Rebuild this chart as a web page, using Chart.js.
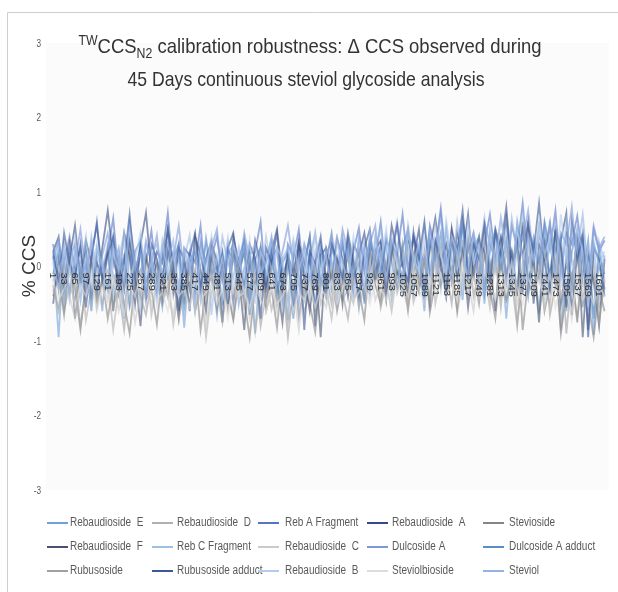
<!DOCTYPE html>
<html>
<head>
<meta charset="utf-8">
<script src="https://cdn.jsdelivr.net/npm/chart.js@4/dist/chart.umd.min.js"></script>
<style>
  body { margin: 0; background: #fff; }
  canvas { display: block; }
</style>
</head>
<body>
<canvas id="ccsCanvas" width="618" height="592"></canvas>
<script>
// run number of each sampled point (every 16th run)
const runIndex = [
  1, 17, 33, 49, 65, 81, 97, 113, 129, 145,
  161, 177, 193, 209, 225, 241, 257, 273, 289, 305,
  321, 337, 353, 369, 385, 401, 417, 433, 449, 465,
  481, 497, 513, 529, 545, 561, 577, 593, 609, 625,
  641, 657, 673, 689, 705, 721, 737, 753, 769, 785,
  801, 817, 833, 849, 865, 881, 897, 913, 929, 945,
  961, 977, 993, 1009, 1025, 1041, 1057, 1073, 1089, 1105,
  1121, 1137, 1153, 1169, 1185, 1201, 1217, 1233, 1249, 1265,
  1281, 1297, 1313, 1329, 1345, 1361, 1377, 1393, 1409, 1425,
  1441, 1457, 1473, 1489, 1505, 1521, 1537, 1553, 1569, 1585,
  1601, 1617
];

// category labels shown on the axis
const tickLabels = [1, 33, 65, 97, 129, 161, 193, 225, 257, 289, 321, 353, 385, 417, 449, 481, 513,
  545, 577, 609, 641, 673, 705, 737, 769, 801, 833, 865, 897, 929, 961, 993, 1025, 1057, 1089,
  1121, 1153, 1185, 1217, 1249, 1281, 1313, 1345, 1377, 1409, 1441, 1473, 1505, 1537, 1569, 1601];

const yTicks = [3, 2, 1, 0, -1, -2, -3];

// % CCS deviation per compound
const rebaudiosideE = [
  0.15,-0.95,0.3,-0.12,0.02,-0.45,0.2,-0.3,0.1,-0.6,
  0.25,-0.15,-0.05,-0.7,0.18,-0.22,0.35,-0.4,0.05,-0.18,
  -0.55,0.22,-0.1,0.12,-0.82,0.08,-0.35,0.28,-0.2,0.0,
  -0.65,0.15,-0.28,0.32,-0.5,-0.02,0.18,-0.9,0.1,-0.25,
  0.2,-0.45,0.05,-0.72,0.26,-0.12,-0.38,0.14,-0.6,0.3,
  -0.2,0.08,-0.48,0.35,-0.15,0.12,-0.55,0.22,-0.3,0.4,
  -0.08,0.28,-0.42,0.15,-0.2,0.45,-0.35,0.1,-0.6,0.32,
  0.05,-0.25,0.5,-0.1,0.2,-0.45,0.38,-0.15,0.12,-0.5,
  0.42,-0.05,0.25,-0.7,0.18,-0.3,0.55,-0.2,0.08,-0.62,
  0.35,-0.12,0.48,-0.85,0.2,-0.28,0.4,-0.55,0.15,-0.92,
  0.3,-0.2
];
const rebaudiosideD = [
  -0.35,-0.1,-0.6,-0.25,-0.45,0.05,-0.72,-0.3,-0.15,-0.5,
  -0.2,-0.85,-0.32,-0.05,-0.55,-0.28,-0.4,0.1,-0.65,-0.22,
  -0.38,-0.12,-0.78,-0.3,-0.48,0.02,-0.6,-0.25,-0.95,-0.35,
  -0.18,-0.52,-0.3,-0.7,-0.1,-0.42,-0.25,-0.88,-0.35,-0.15,
  -0.58,-0.3,-0.05,-0.75,-0.4,-0.2,-0.62,-0.33,0.08,-0.5,
  -0.28,-0.7,-0.15,-0.45,-0.3,0.12,-0.55,-0.25,-0.38,0.2,
  -0.42,-0.18,-0.6,-0.05,-0.35,0.25,-0.48,-0.22,-0.3,0.38,
  -0.5,-0.12,-0.28,0.15,-0.62,-0.2,-0.4,0.3,-0.35,-0.08,
  -0.55,0.1,-0.3,-0.45,0.22,-0.75,-0.18,-0.35,0.05,-0.6,
  -0.25,-0.5,0.12,-0.82,-0.3,-0.15,-0.68,-0.2,-0.45,-0.1,
  -0.55,-0.3
];
const rebAFragment = [
  0.3,-0.2,0.05,0.4,-0.1,0.25,-0.35,0.15,0.55,-0.05,
  0.2,0.65,-0.15,0.1,0.35,-0.3,0.22,0.05,0.48,-0.2,
  0.15,0.72,-0.1,0.3,-0.4,0.18,0.05,0.55,-0.25,0.12,
  0.4,-0.15,0.28,-0.5,0.1,0.35,-0.05,0.2,0.6,-0.3,
  0.08,0.25,-0.45,0.3,0.12,0.5,-0.2,0.15,-0.6,0.28,
  0.05,0.45,-0.12,0.3,-0.25,0.2,0.52,-0.08,0.35,0.1,
  0.6,-0.1,0.3,0.15,0.7,-0.05,0.4,0.2,-0.3,0.55,
  0.25,0.78,0.05,0.35,-0.15,0.62,0.2,0.45,-0.1,0.3,
  0.7,0.12,0.4,-0.2,0.55,0.25,0.85,0.05,0.38,-0.15,
  0.6,0.22,0.75,-0.1,0.45,0.3,0.68,0.1,-0.4,0.5,
  0.2,0.35
];
const rebaudiosideA = [
  0.2,0.4,-0.3,0.1,0.55,-0.15,0.35,0.05,-0.4,0.25,
  0.75,0.1,-0.2,0.45,0.15,-0.5,0.3,0.72,-0.1,0.2,
  0.05,0.5,-0.35,0.25,0.1,-0.6,0.4,0.15,-0.2,0.3,
  0.08,-0.75,0.25,0.45,-0.1,0.2,-0.45,0.35,0.05,-0.3,
  0.2,0.5,-0.15,0.1,-0.55,0.3,0.05,0.4,-0.8,0.15,
  0.25,-0.2,0.38,0.1,-0.4,0.3,0.15,0.45,-0.05,0.22,
  0.35,-0.15,0.55,0.2,-0.25,0.4,0.1,0.5,-0.3,0.25,
  0.65,0.05,0.3,-0.2,0.45,0.15,0.7,-0.1,0.35,0.2,
  -0.35,0.5,0.25,0.8,-0.05,0.4,0.15,0.6,-0.5,0.3,
  0.1,0.55,-0.2,0.35,0.72,-0.65,0.2,0.45,-0.85,0.25,
  0.1,-0.3
];
const stevioside = [
  -0.4,-0.1,-0.65,0.05,-0.3,-0.85,-0.2,0.1,-0.55,-0.15,
  -0.7,-0.25,0.0,-0.5,-0.9,-0.2,-0.05,-0.45,-0.3,-0.78,
  -0.1,-0.4,0.08,-0.62,-0.25,-0.5,-0.05,-0.85,-0.3,-0.15,
  -0.58,0.02,-0.35,-0.72,-0.18,-0.45,-0.95,-0.25,-0.05,-0.6,
  -0.3,-0.82,-0.12,-0.45,0.05,-0.68,-0.25,-0.5,-0.88,-0.15,
  -0.4,-0.05,-0.6,-0.2,0.15,-0.45,-0.3,-0.72,0.1,-0.25,
  -0.5,0.05,-0.3,-0.15,0.3,-0.55,-0.1,-0.35,0.2,-0.62,
  -0.2,0.25,-0.4,-0.05,-0.58,0.35,-0.25,-0.1,-0.5,0.18,
  -0.3,-0.7,0.1,-0.45,-0.15,0.3,-0.85,-0.2,-0.4,0.15,
  -0.6,-0.25,0.05,-0.9,-0.35,-0.1,-0.75,0.2,-0.5,-0.95,
  -0.3,-0.6
];
const rebaudiosideF = [
  -0.5,0.1,-0.25,0.3,-0.7,-0.05,0.2,-0.4,0.05,-0.15,
  0.25,-0.6,0.1,-0.3,0.35,-0.1,-0.8,0.15,-0.2,0.05,
  -0.45,0.2,-0.15,-0.7,0.1,-0.3,0.4,-0.05,-0.6,0.15,
  -0.25,0.05,-0.55,0.2,-0.1,-0.85,0.15,-0.3,0.25,-0.5,
  0.05,-0.2,-0.75,0.1,-0.35,0.3,-0.15,-0.6,0.05,-0.95,
  0.2,-0.3,0.1,-0.5,0.35,-0.15,0.05,-0.4,0.25,-0.2,
  0.15,-0.45,0.3,-0.1,0.05,-0.35,0.45,-0.2,0.1,-0.5,
  0.3,-0.05,-0.3,0.5,-0.15,0.2,-0.55,0.1,0.4,-0.25,
  0.05,-0.6,0.35,-0.1,0.2,-0.4,0.6,-0.2,0.1,-0.75,
  0.3,-0.15,0.5,-0.5,0.05,-0.3,0.45,-0.95,0.15,-0.2,
  -0.8,0.1
];
const rebCFragment = [
  -0.2,0.35,0.0,-0.45,0.25,-0.1,0.4,-0.3,0.15,-0.05,
  0.3,-0.4,0.1,0.45,-0.2,0.05,-0.55,0.28,0.12,-0.3,
  0.35,-0.05,0.2,-0.5,0.1,0.42,-0.25,0.0,0.3,-0.65,
  0.15,-0.1,0.38,-0.3,0.05,0.25,-0.45,0.12,-0.2,0.4,
  -0.05,0.22,-0.6,0.1,0.35,-0.25,0.18,-0.4,0.05,0.3,
  -0.3,0.15,0.4,-0.1,0.25,-0.45,0.1,0.35,-0.15,0.2,
  0.5,-0.2,0.3,0.05,-0.35,0.45,0.15,-0.1,0.55,0.0,
  0.25,-0.3,0.6,0.1,-0.05,0.4,-0.2,0.3,0.15,0.65,
  -0.15,0.35,0.05,0.5,-0.3,0.2,0.7,-0.1,0.4,0.15,
  -0.45,0.55,0.2,-0.2,0.62,0.1,-0.35,0.48,0.05,-0.6,
  0.3,0.1
];
const rebaudiosideC = [
  -0.3,-0.55,-0.15,-0.4,-0.7,-0.2,-0.35,-0.05,-0.5,-0.25,
  -0.45,-0.1,-0.6,-0.3,-0.2,-0.75,-0.35,-0.15,-0.5,-0.28,
  -0.05,-0.42,-0.65,-0.2,-0.38,-0.1,-0.55,-0.3,-0.8,-0.22,
  -0.4,-0.12,-0.58,-0.3,-0.45,-0.2,-0.7,-0.35,-0.15,-0.5,
  -0.25,-0.62,-0.1,-0.4,-0.3,-0.85,-0.2,-0.45,-0.05,-0.35,
  -0.55,-0.2,-0.4,0.0,-0.3,-0.5,-0.15,-0.35,0.05,-0.45,
  -0.25,-0.1,-0.4,0.1,-0.3,-0.55,-0.05,-0.2,0.15,-0.38,
  -0.15,0.2,-0.3,-0.05,-0.45,0.1,-0.2,-0.6,0.05,-0.3,
  -0.1,0.25,-0.4,-0.2,0.05,-0.5,-0.15,0.3,-0.35,-0.05,
  -0.55,-0.2,0.1,-0.4,-0.25,-0.7,-0.1,-0.45,0.0,-0.6,
  -0.3,-0.15
];
const dulcosideA = [
  0.1,0.35,-0.2,0.25,0.05,0.5,-0.1,0.3,-0.35,0.15,
  0.45,0.0,0.25,-0.3,0.6,0.1,-0.15,0.35,0.05,0.42,
  -0.2,0.3,0.1,0.55,-0.1,0.2,-0.45,0.35,0.05,0.25,
  0.5,-0.2,0.15,0.3,-0.05,0.45,0.1,-0.35,0.25,0.05,
  0.4,-0.15,0.2,0.55,0.0,-0.5,0.3,0.1,0.45,-0.2,
  0.15,0.35,-0.1,0.5,0.2,-0.3,0.4,0.05,0.3,0.55,
  -0.05,0.35,0.2,0.6,0.1,-0.2,0.45,0.25,0.05,0.5,
  0.15,0.7,-0.1,0.4,0.25,0.55,0.05,0.35,-0.25,0.6,
  0.3,0.1,0.65,0.2,-0.15,0.5,0.35,0.75,0.1,0.4,
  0.2,0.6,-0.1,0.45,0.3,0.8,0.05,0.35,-0.2,0.55,
  0.25,0.4
];
const dulcosideAAdduct = [
  -0.1,0.2,-0.45,0.1,0.3,-0.25,0.05,-0.6,0.25,0.0,
  -0.3,0.4,-0.1,0.15,-0.5,0.2,0.35,-0.2,0.05,-0.4,
  0.25,-0.15,0.1,0.3,-0.55,0.05,0.2,-0.3,0.38,-0.1,
  0.0,-0.45,0.22,0.1,-0.2,0.35,-0.65,0.1,0.25,-0.15,
  0.3,-0.35,0.05,0.2,-0.7,0.15,-0.05,0.4,-0.25,0.1,
  -0.4,0.25,0.05,-0.2,0.35,-0.1,0.2,-0.5,0.3,0.1,
  -0.15,0.4,0.05,-0.3,0.25,0.5,-0.1,0.2,-0.45,0.35,
  0.1,0.45,-0.2,0.3,0.05,0.55,-0.15,0.25,0.4,-0.35,
  0.2,0.5,-0.05,0.35,-0.25,0.6,0.15,-0.4,0.3,0.05,
  0.55,-0.3,0.25,0.4,-0.6,0.2,0.5,-0.15,0.35,-0.7,
  0.15,-0.1
];
const rubusoside = [
  -0.25,-0.6,0.05,-0.35,-0.1,-0.8,-0.3,0.1,-0.45,-0.2,
  -0.05,-0.55,-0.3,-0.85,-0.15,0.05,-0.4,-0.65,-0.2,-0.1,
  -0.5,-0.25,0.1,-0.7,-0.35,-0.05,-0.6,-0.2,-0.4,0.0,
  -0.3,-0.75,-0.15,-0.45,0.05,-0.55,-0.25,-0.1,-0.8,-0.35,
  -0.05,-0.5,-0.2,-0.95,-0.3,0.1,-0.45,-0.15,-0.6,-0.25,
  -0.1,-0.5,0.05,-0.35,-0.7,-0.15,0.2,-0.4,-0.25,0.1,
  -0.55,-0.2,0.25,-0.35,-0.1,-0.6,0.15,-0.3,0.05,-0.45,
  0.3,-0.25,-0.05,-0.5,0.2,-0.15,0.35,-0.4,-0.1,0.45,
  -0.3,0.1,-0.55,0.25,-0.2,-0.8,0.05,0.4,-0.35,-0.1,
  0.2,-0.65,-0.25,0.3,-0.9,-0.1,0.15,-0.5,-0.3,0.05,
  -0.75,-0.2
];
const rubusosideAdduct = [
  0.2,-0.3,0.45,0.05,-0.15,0.3,-0.55,0.1,0.6,-0.2,
  0.15,0.4,-0.35,0.05,0.7,-0.1,0.25,-0.45,0.3,0.1,
  -0.2,0.5,0.05,-0.6,0.25,0.15,0.45,-0.3,0.1,0.35,
  -0.1,0.2,-0.5,0.4,0.05,-0.25,0.3,0.1,-0.7,0.25,
  0.05,0.45,-0.3,0.15,-0.1,0.35,-0.85,0.2,0.05,0.4,
  -0.25,0.3,0.1,-0.15,0.45,0.05,-0.4,0.25,0.5,-0.1,
  0.3,-0.3,0.15,0.55,0.0,-0.2,0.4,0.1,0.6,-0.15,
  0.35,0.05,-0.4,0.5,0.2,0.75,-0.1,0.3,0.1,0.55,
  -0.2,0.45,0.15,0.65,-0.05,0.3,-0.35,0.55,0.2,0.85,
  0.05,-0.3,0.5,0.25,-0.55,0.6,0.1,0.4,-0.95,0.3,
  0.05,-0.4
];
const rebaudiosideB = [
  0.05,-0.3,0.25,-0.1,0.4,-0.45,0.15,-0.2,0.3,0.0,
  -0.35,0.2,-0.05,0.35,-0.25,0.1,0.45,-0.15,0.05,-0.5,
  0.3,-0.1,0.15,-0.35,0.25,0.05,-0.6,0.2,-0.05,0.4,
  -0.2,0.1,-0.4,0.3,0.05,-0.15,0.35,-0.5,0.2,0.0,
  -0.3,0.25,0.1,-0.55,0.35,-0.05,0.2,-0.25,0.45,-0.1,
  0.15,-0.35,0.3,0.05,-0.2,0.4,-0.1,0.25,-0.4,0.35,
  0.05,0.5,-0.15,0.3,-0.3,0.45,0.1,-0.05,0.35,-0.25,
  0.55,0.15,-0.1,0.4,0.2,-0.3,0.6,0.05,0.3,-0.15,
  0.45,-0.05,0.65,0.2,-0.25,0.5,0.1,0.35,-0.4,0.6,
  0.15,0.4,-0.2,0.7,0.05,-0.35,0.5,0.2,-0.55,0.35,
  0.0,0.2
];
const steviolbioside = [
  -0.2,-0.45,-0.3,-0.1,-0.55,-0.25,-0.4,-0.15,-0.6,-0.3,
  -0.5,-0.2,-0.35,-0.65,-0.25,-0.4,-0.1,-0.5,-0.3,-0.45,
  -0.35,-0.6,-0.2,-0.4,-0.3,-0.55,-0.15,-0.45,-0.35,-0.25,
  -0.5,-0.3,-0.7,-0.2,-0.4,-0.35,-0.55,-0.25,-0.45,-0.6,
  -0.3,-0.5,-0.4,-0.2,-0.6,-0.35,-0.45,-0.25,-0.55,-0.3,
  -0.4,-0.2,-0.5,-0.3,-0.15,-0.45,-0.35,-0.25,-0.5,-0.2,
  -0.3,-0.45,-0.1,-0.35,-0.25,-0.4,-0.05,-0.3,-0.5,-0.15,
  -0.35,-0.1,-0.4,-0.2,-0.45,0.0,-0.3,-0.15,-0.4,-0.05,
  -0.25,-0.45,-0.1,-0.35,0.05,-0.3,-0.5,-0.15,-0.35,-0.2,
  -0.4,-0.1,-0.55,-0.25,-0.35,-0.6,-0.2,-0.45,-0.3,-0.5,
  -0.25,-0.4
];
const steviol = [
  0.3,-0.05,0.15,-0.35,0.2,0.05,-0.25,0.4,-0.1,0.1,
  -0.3,0.25,0.1,-0.2,0.5,-0.05,0.2,-0.4,0.15,0.3,
  -0.15,0.05,0.35,-0.3,0.2,-0.05,0.3,-0.45,0.1,0.2,
  -0.25,0.4,0.05,-0.15,0.25,-0.35,0.15,0.3,-0.1,0.05,
  0.35,-0.2,0.1,0.25,-0.4,0.05,0.3,-0.15,0.2,-0.3,
  0.25,0.05,-0.25,0.4,0.1,-0.1,0.3,-0.3,0.45,0.0,
  0.2,-0.2,0.4,0.1,-0.15,0.55,0.05,0.3,-0.25,0.45,
  -0.05,0.35,0.15,-0.2,0.6,0.1,-0.1,0.45,0.2,-0.3,
  0.5,0.05,0.3,-0.15,0.65,0.2,-0.25,0.4,0.1,0.55,
  -0.2,0.35,0.6,0.05,-0.3,0.5,0.2,0.7,-0.1,0.3,
  -0.45,0.15
];

const seriesNames = ['Rebaudioside  E', 'Rebaudioside  D', 'Reb A Fragment', 'Rebaudioside  A', 'Stevioside',
  'Rebaudioside  F', 'Reb C Fragment', 'Rebaudioside  C', 'Dulcoside A', 'Dulcoside A adduct',
  'Rubusoside', 'Rubusoside adduct', 'Rebaudioside  B', 'Steviolbioside', 'Steviol'];
const seriesValues = [rebaudiosideE, rebaudiosideD, rebAFragment, rebaudiosideA, stevioside,
  rebaudiosideF, rebCFragment, rebaudiosideC, dulcosideA, dulcosideAAdduct,
  rubusoside, rubusosideAdduct, rebaudiosideB, steviolbioside, steviol];
const seriesColors = ['#72a0d8', '#b0b0b0', '#5575c4', '#334c86', '#858585',
  '#475370', '#9dbfe6', '#cacaca', '#7b98d8', '#5a8dc8',
  '#a0a0a0', '#3b5898', '#b3cbec', '#dcdcdc', '#95b3e2'];

// lines blend where they overlap, the legend keeps the solid colour
function withAlpha(hex, a) {
  const n = parseInt(hex.slice(1), 16);
  return `rgba(${n >> 16}, ${(n >> 8) & 255}, ${n & 255}, ${a})`;
}

const FONT = '"Liberation Sans", Arial, sans-serif';
const NARROW = 0.82; // no narrow face installed, so squeeze horizontally

// draw text squeezed horizontally to mimic a narrow face
function narrowText(c, text, x, y, sx, align) {
  const w = c.measureText(text).width * sx;
  let left = x;
  if (align === 'center') left = x - w / 2;
  else if (align === 'right') left = x - w;
  c.save();
  c.textAlign = 'left';
  c.translate(left, y);
  c.scale(sx, 1);
  c.fillText(text, 0, 0);
  c.restore();
  return w;
}

// frame, plot background, title, axis text and legend drawn around the chart
const decorPlugin = {
  id: 'decor',
  beforeDraw(chart) {
    const c = chart.ctx, a = chart.chartArea;
    c.save();
    c.fillStyle = '#ffffff';
    c.fillRect(0, 0, chart.width, chart.height);
    c.fillStyle = '#fbfbfc';
    c.fillRect(a.left, a.top, a.right - a.left, a.bottom - a.top);
    c.strokeStyle = '#cfcfcf';
    c.lineWidth = 1;
    c.beginPath();
    c.moveTo(7.5, chart.height);
    c.lineTo(7.5, 12.5);
    c.lineTo(chart.width, 12.5);
    c.stroke();
    c.restore();
  },
  afterDatasetsDraw(chart) {
    const c = chart.ctx;
    const xs = chart.scales.x, ys = chart.scales.y;
    c.save();
    // y tick labels
    c.fillStyle = '#595959';
    c.font = '10px ' + FONT;
    c.textBaseline = 'middle';
    yTicks.forEach(v => narrowText(c, String(v), 41, ys.getPixelForValue(v) + 1, NARROW, 'right'));

    // x category labels, rotated, sitting on the zero line
    const y0 = ys.getPixelForValue(0);
    c.fillStyle = '#333333';
    c.font = '11px ' + FONT;
    c.textAlign = 'left';
    c.textBaseline = 'middle';
    tickLabels.forEach(v => {
      c.save();
      c.translate(xs.getPixelForValue(v), y0 + 6);
      c.rotate(Math.PI / 2);
      c.scale(1, 0.9);
      c.fillText(String(v), 0, 0);
      c.restore();
    });

    // axis title
    c.save();
    c.fillStyle = '#333333';
    c.font = '19px ' + FONT;
    c.textAlign = 'center';
    c.textBaseline = 'middle';
    c.translate(30, 266);
    c.rotate(-Math.PI / 2);
    c.fillText('% CCS', 0, 0);
    c.restore();
    c.restore();
  },
  afterDraw(chart) {
    const c = chart.ctx;
    c.save();
    // title, line 1 with super/subscripts
    const big = '21px ' + FONT, small = '14px ' + FONT;
    const sx1 = 0.88, sx2 = 0.84;
    const parts = [
      { t: 'TW', f: small, dy: -8 },
      { t: 'CCS', f: big, dy: 0 },
      { t: 'N2', f: small, dy: 5 },
      { t: ' calibration robustness: \u0394 CCS observed during', f: big, dy: 0 }
    ];
    let w = 0;
    parts.forEach(p => { c.font = p.f; p.w = c.measureText(p.t).width * sx1; w += p.w; });
    let x = 310 - w / 2;
    c.fillStyle = '#333333';
    c.textBaseline = 'alphabetic';
    parts.forEach(p => { c.font = p.f; narrowText(c, p.t, x, 53 + p.dy, sx1, 'left'); x += p.w; });
    c.font = big;
    narrowText(c, '45 Days continuous steviol glycoside analysis', 306, 86, sx2, 'center');

    // legend grid 5 x 3
    const lineX = [47, 152, 258, 367, 483];
    const textX = [70, 177, 285, 392, 509];
    const rowY = [523, 547, 571];
    c.font = '12.5px ' + FONT;
    c.textBaseline = 'middle';
    chart.data.datasets.forEach((ds, i) => {
      const col = i % 5, row = Math.floor(i / 5);
      c.strokeStyle = seriesColors[i];
      c.lineWidth = 2;
      c.beginPath();
      c.moveTo(lineX[col], rowY[row]);
      c.lineTo(lineX[col] + 21, rowY[row]);
      c.stroke();
      c.fillStyle = '#595959';
      narrowText(c, ds.label, textX[col], rowY[row], 0.8, 'left');
    });
    c.restore();
  }
};

const ctx = document.getElementById('ccsCanvas').getContext('2d');
const ccsChart = new Chart(ctx, {
  type: 'line',
  data: {
    datasets: seriesNames.map((name, i) => ({
      label: name,
      data: seriesValues[i].map((v, k) => ({ x: runIndex[k], y: v })),
      borderColor: withAlpha(seriesColors[i], 0.6),
      backgroundColor: seriesColors[i],
      borderWidth: 1.8,
      pointRadius: 0,
      tension: 0,
      fill: false,
      order: seriesNames.length - i // later series on top, like the original
    }))
  },
  options: {
    responsive: false,
    animation: false,
    devicePixelRatio: 1,
    layout: { padding: { left: 46, right: 9, top: 43, bottom: 102 } },
    scales: {
      x: { type: 'linear', min: -20, max: 1630, display: false },
      y: { min: -3, max: 3, display: false }
    },
    plugins: {
      legend: { display: false },
      title: { display: false },
      tooltip: { enabled: false }
    }
  },
  plugins: [decorPlugin]
});
</script>
</body>
</html>
